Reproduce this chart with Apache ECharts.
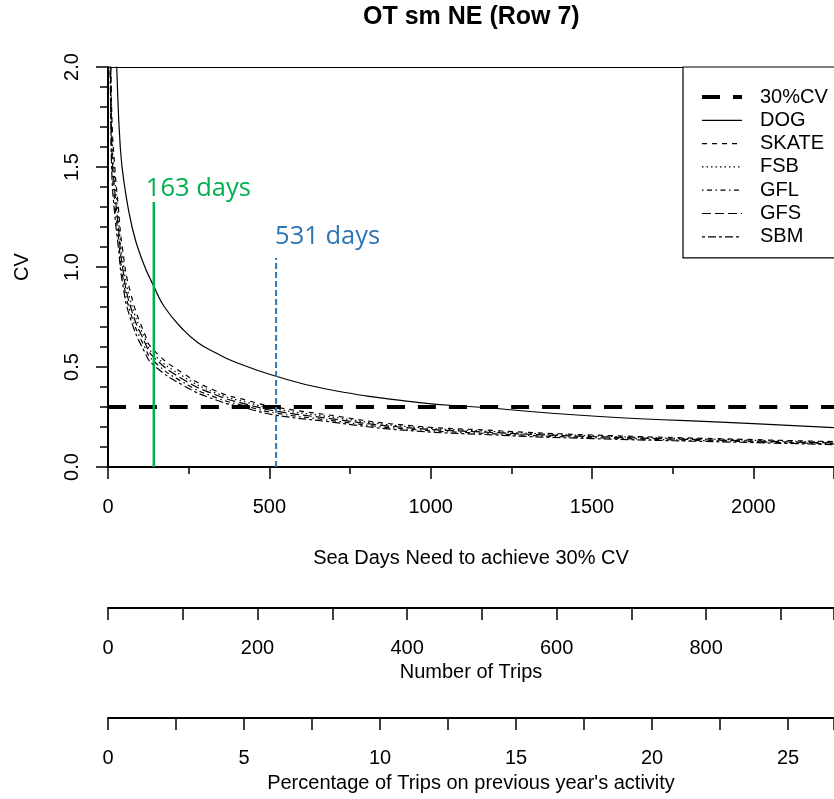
<!DOCTYPE html>
<html>
<head>
<meta charset="utf-8">
<script src="https://cdn.jsdelivr.net/npm/echarts@6.0.0/dist/echarts.min.js"></script>
<style>
  html, body { margin: 0; padding: 0; background: #fff; }
  #chart { width: 834px; height: 799px; }
</style>
</head>
<body>
<div id="chart"></div>
<script>
// values
const refDays = [0, 2250];
const refCV = [0.3, 0.3];

const dogDays = [20, 27, 38, 50, 76, 107, 143, 175, 231, 280, 335, 386, 518, 676, 965, 1142, 1500, 2000, 2250];
const dogCV = [2.35, 2.0, 1.6, 1.42, 1.19, 1.03, 0.9, 0.8, 0.69, 0.62, 0.57, 0.53, 0.455, 0.39, 0.322, 0.30, 0.255, 0.217, 0.197];

const speciesDays = [5, 8, 12, 20, 32, 45, 70, 115, 141, 231, 335, 438, 518, 676, 903, 1200, 1500, 2000, 2250];
const skateCV = [2.5, 2.15, 1.75, 1.52, 1.3, 1.09, 0.87, 0.66, 0.585, 0.47, 0.38, 0.33, 0.30, 0.262, 0.212, 0.182, 0.16, 0.137, 0.127];
const fsbCV = [2.4, 2.08, 1.67, 1.46, 1.25, 1.04, 0.83, 0.64, 0.565, 0.455, 0.37, 0.32, 0.29, 0.254, 0.206, 0.177, 0.156, 0.134, 0.124];
const gflCV = [2.2, 1.92, 1.53, 1.34, 1.15, 0.96, 0.77, 0.595, 0.53, 0.425, 0.347, 0.30, 0.27, 0.236, 0.193, 0.166, 0.147, 0.126, 0.116];
const gfsCV = [2.3, 2.0, 1.6, 1.4, 1.2, 1.0, 0.8, 0.62, 0.55, 0.44, 0.36, 0.31, 0.28, 0.245, 0.20, 0.172, 0.152, 0.13, 0.12];
const sbmCV = [2.1, 1.84, 1.46, 1.28, 1.1, 0.92, 0.74, 0.57, 0.51, 0.41, 0.335, 0.29, 0.26, 0.228, 0.186, 0.16, 0.142, 0.122, 0.112];

// vertical markers drawn on the plot
const markDays = [142, 521];
const markTops = [1.325, 1.045];
const markLabels = ['163 days', '531 days'];

const legendNames = ['30%CV', 'DOG', 'SKATE', 'FSB', 'GFL', 'GFS', 'SBM'];

const FONT = '"Liberation Sans", Arial, sans-serif';
const zip = (xs, ys) => xs.map((x, i) => [x, ys[i]]);

const chart = echarts.init(document.getElementById('chart'));

const styles = {
  '30%CV': { type: [18, 13], width: 4 },
  DOG: { type: 'solid', width: 1.2 },
  SKATE: { type: [5, 5], width: 1.2 },
  FSB: { type: [1.5, 3], width: 1.2 },
  GFL: { type: [1.5, 3.5, 5, 3.5], width: 1.2 },
  GFS: { type: [9, 4], width: 1.2 },
  SBM: { type: [3, 3, 8, 3], width: 1.2 }
};

function curve(name, days, cv) {
  return {
    name: name,
    type: 'line',
    data: zip(days, cv),
    symbol: 'none',
    smooth: 0.5,
    silent: true,
    itemStyle: { color: '#000' },
    lineStyle: { color: '#000', width: styles[name].width, type: styles[name].type }
  };
}

function bottomAxis(grid, max, interval, name, nameGap, minorLen) {
  return {
    gridIndex: grid,
    type: 'value',
    position: 'bottom',
    min: 0,
    max: max,
    interval: interval,
    axisLine: { onZero: false, lineStyle: { color: '#000', width: 2 } },
    axisTick: { length: 12, lineStyle: { color: '#000', width: 1.5 } },
    minorTick: { show: true, splitNumber: 2, length: minorLen, lineStyle: { color: '#000', width: 1.5 } },
    splitLine: { show: false },
    axisLabel: {
      color: '#000', fontSize: 20, fontFamily: FONT, margin: 30,
      showMaxLabel: false, formatter: v => String(v)
    },
    name: name,
    nameLocation: 'middle',
    nameGap: nameGap,
    nameTextStyle: { color: '#000', fontSize: 20, fontFamily: FONT }
  };
}

const markColors = ['#00b050', '#2e75b6'];
const markDash = ['solid', [6, 3]];
const markWidth = [2.5, 2];
const labelOffsets = [[-8, 0], [-1, -8]];

const markSeries = [];
markDays.forEach((d, i) => {
  markSeries.push({
    type: 'line',
    data: [[d, 0], [d, markTops[i]]],
    symbol: 'none',
    silent: true,
    lineStyle: { color: markColors[i], width: markWidth[i], type: markDash[i] }
  });
  markSeries.push({
    type: 'scatter',
    data: [[d, markTops[i]]],
    symbolSize: 1,
    itemStyle: { color: 'rgba(0,0,0,0)' },
    silent: true,
    label: {
      show: true,
      formatter: markLabels[i],
      position: 'top',
      align: 'left',
      verticalAlign: 'bottom',
      distance: 0,
      offset: labelOffsets[i],
      color: markColors[i],
      opacity: 1,
      fontSize: 25.5,
      fontFamily: '"Open Sans", "Noto Sans", sans-serif'
    }
  });
});

const option = {
  animation: false,
  backgroundColor: '#fff',
  title: {
    text: 'OT sm NE (Row 7)',
    left: 363,
    top: 5,
    padding: 0,
    textStyle: { color: '#000', fontSize: 25, fontWeight: 'bold', fontFamily: FONT }
  },
  legend: {
    data: legendNames.map(n => ({
      name: n,
      itemStyle: { opacity: 0 },
      lineStyle: { color: '#000', width: styles[n].width, type: styles[n].type }
    })),
    orient: 'vertical',
    left: 683,
    top: 67,
    padding: [20, 40, 11, 17],
    itemWidth: 40,
    itemHeight: 14,
    itemGap: 3.3,
    selectedMode: false,
    borderColor: '#000',
    borderWidth: 1.2,
    backgroundColor: '#fff',
    textStyle: { color: '#000', fontSize: 20, fontFamily: FONT, padding: [0, 0, 0, 13] }
  },
  grid: [
    { left: 108, right: 0, top: 67, height: 400 },
    { left: 108, right: 0, top: 607, height: 1 },
    { left: 108, right: 0, top: 717, height: 1 }
  ],
  xAxis: [
    bottomAxis(0, 2250, 500, 'Sea Days Need to achieve 30% CV', 81, 7),
    {
      gridIndex: 0, type: 'value', position: 'top', min: 0, max: 2250,
      axisLine: { onZero: false, lineStyle: { color: '#000', width: 1.2 } },
      axisTick: { show: false }, axisLabel: { show: false }, splitLine: { show: false }
    },
    bottomAxis(1, 971, 200, 'Number of Trips', 54, 12),
    bottomAxis(2, 26.69, 5, "Percentage of Trips on previous year's activity", 55, 12)
  ],
  yAxis: [
    {
      gridIndex: 0, type: 'value', min: 0, max: 2, interval: 0.5,
      axisLine: { show: true, onZero: false, lineStyle: { color: '#000', width: 2 } },
      axisTick: { show: true, length: 12, lineStyle: { color: '#000', width: 1.5 } },
      minorTick: { show: true, splitNumber: 5, length: 8, lineStyle: { color: '#000', width: 1.5 } },
      splitLine: { show: false },
      axisLabel: {
        color: '#000', fontSize: 20, fontFamily: FONT, rotate: 90, margin: 26,
        formatter: v => v.toFixed(1)
      },
      name: 'CV',
      nameLocation: 'middle',
      nameRotate: 90,
      nameGap: 76,
      nameTextStyle: { color: '#000', fontSize: 20, fontFamily: FONT }
    },
    { gridIndex: 1, type: 'value', show: false },
    { gridIndex: 2, type: 'value', show: false }
  ],
  series: [
    curve('30%CV', refDays, refCV),
    curve('DOG', dogDays, dogCV),
    curve('SKATE', speciesDays, skateCV),
    curve('FSB', speciesDays, fsbCV),
    curve('GFL', speciesDays, gflCV),
    curve('GFS', speciesDays, gfsCV),
    curve('SBM', speciesDays, sbmCV)
  ].concat(markSeries)
};

chart.setOption(option);
</script>
</body>
</html>
